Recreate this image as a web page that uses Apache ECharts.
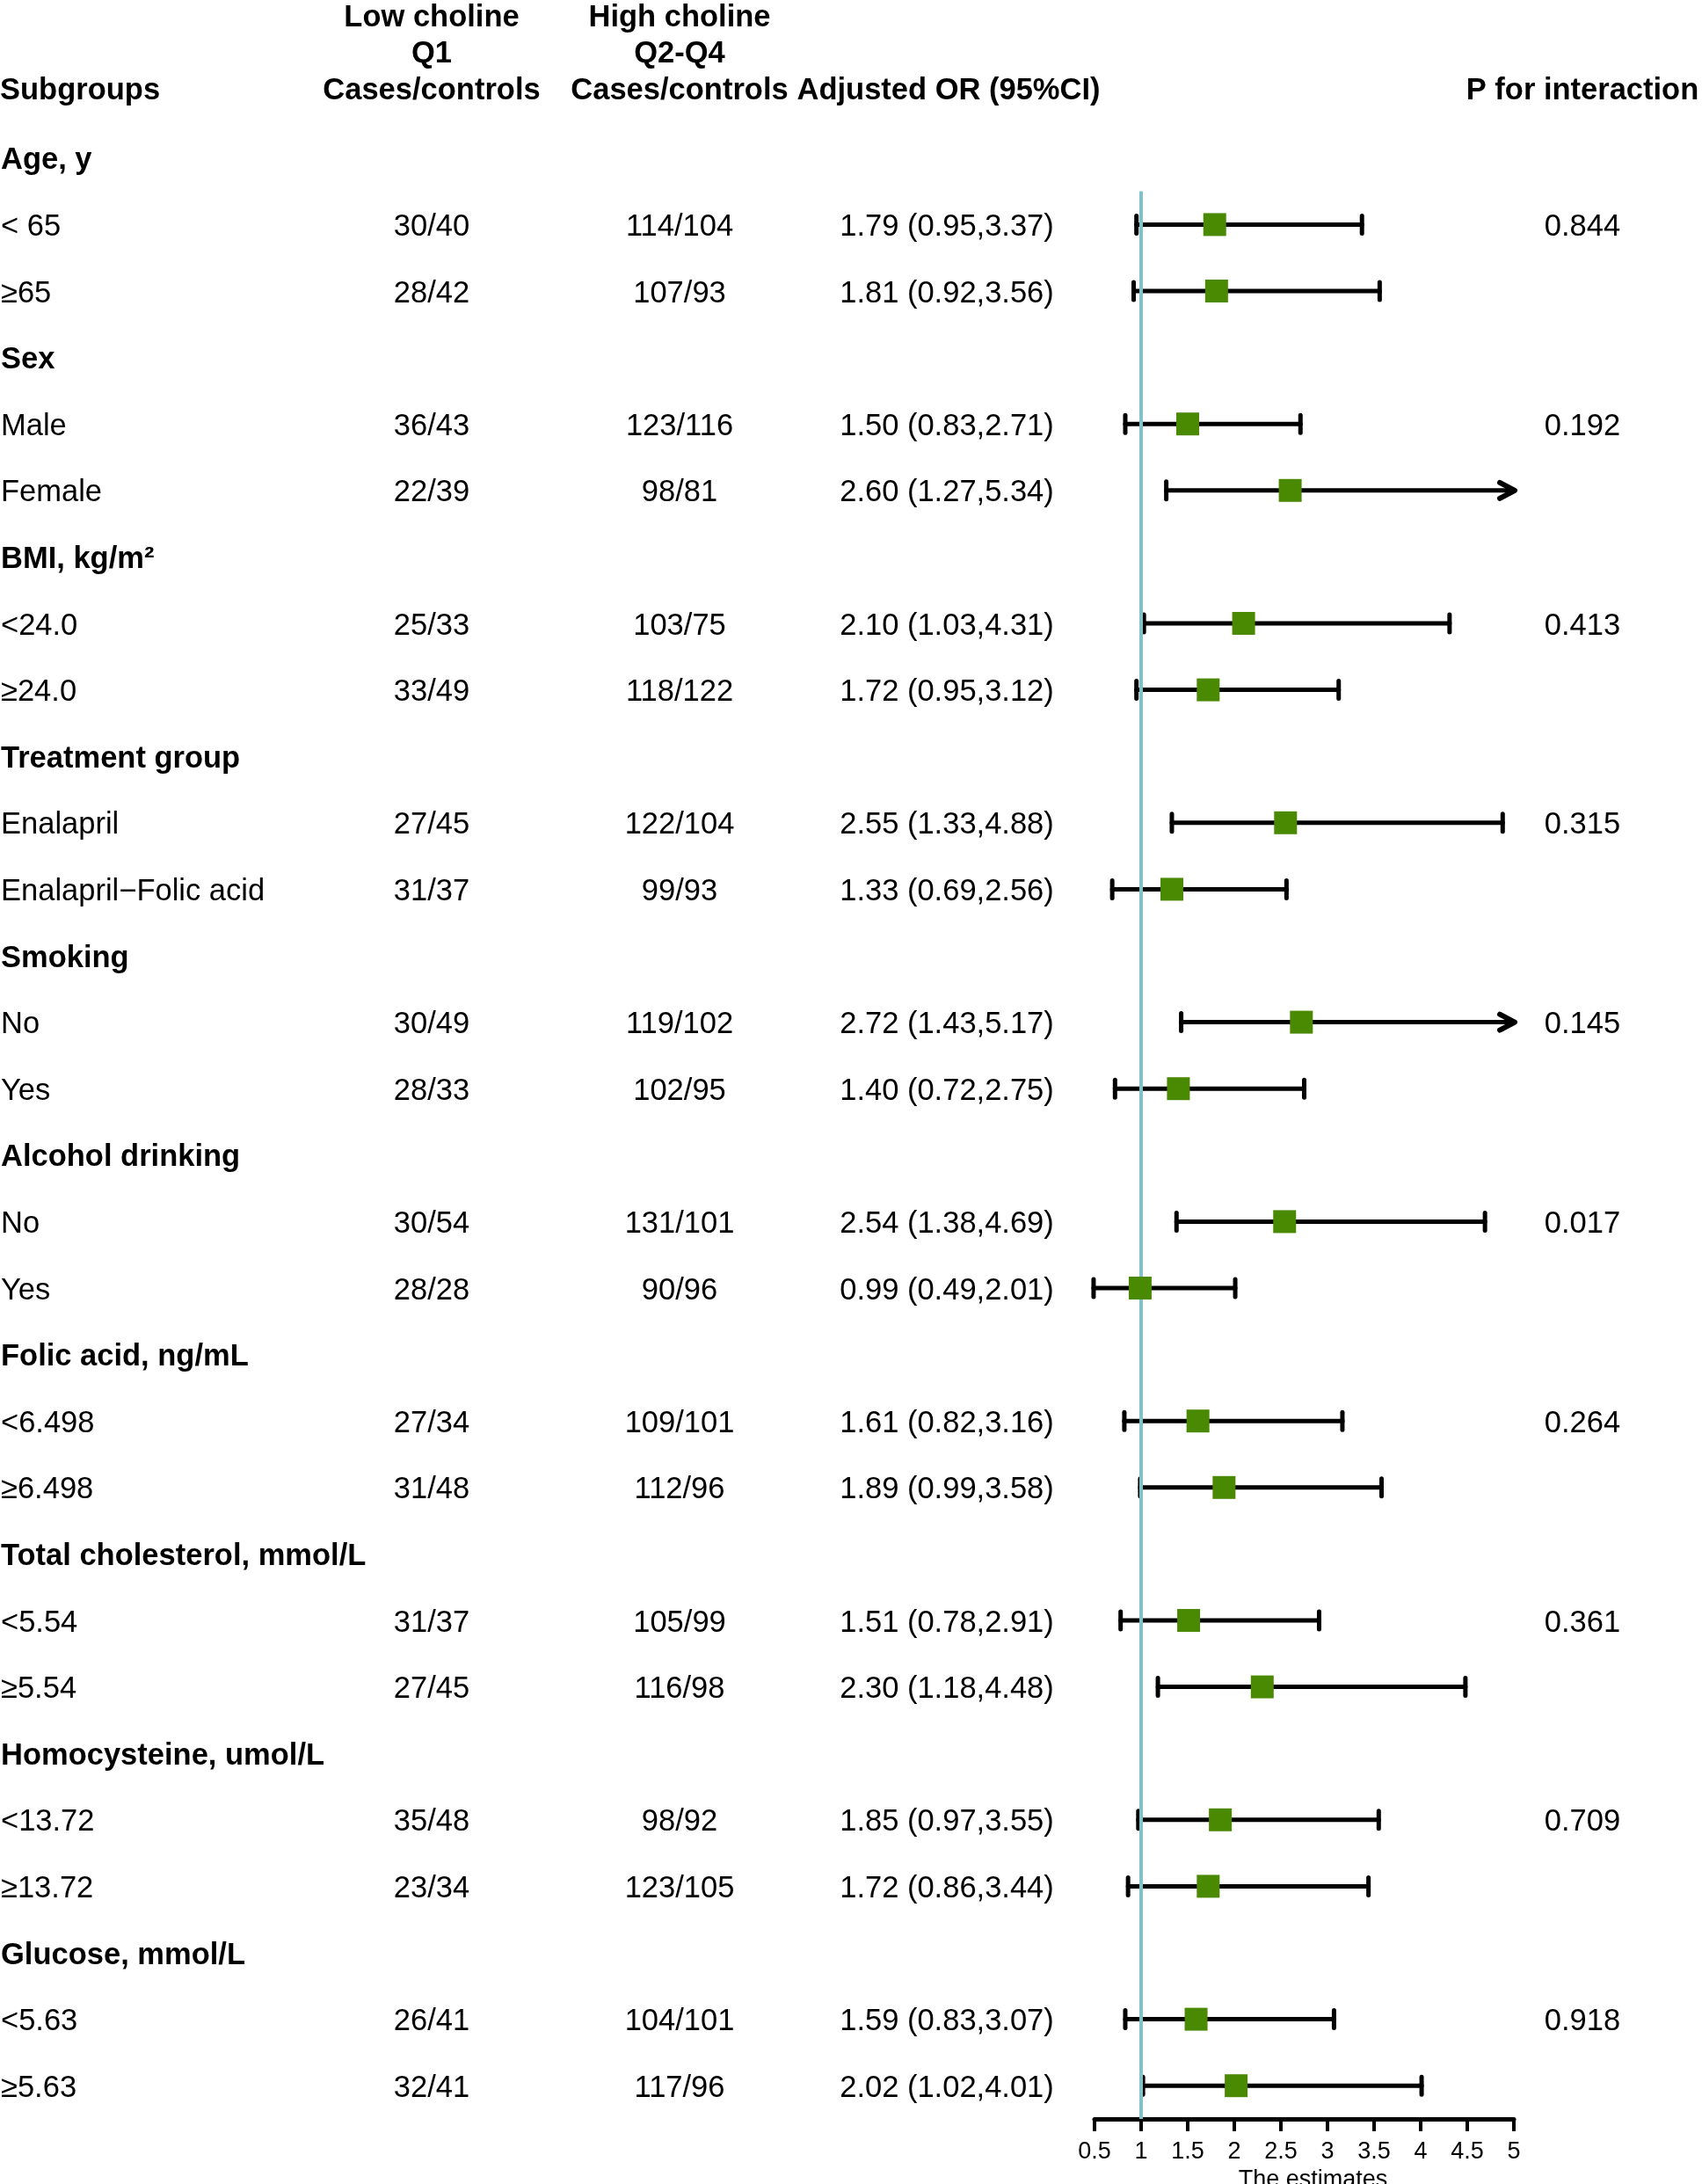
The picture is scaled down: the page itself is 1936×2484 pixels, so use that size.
<!DOCTYPE html>
<html><head><meta charset="utf-8">
<script src="https://cdn.jsdelivr.net/npm/echarts@6/dist/echarts.min.js"></script>
<style>html,body{margin:0;padding:0;background:#fff}#c{width:1936px;height:2484px}</style>
</head><body><div id="c"></div>
<script>
// ---------- data ----------
const rowLabels = ['Age, y','< 65','\u226565','Sex','Male','Female','BMI, kg/m\u00b2','<24.0','\u226524.0',
  'Treatment group','Enalapril','Enalapril\u2212Folic acid','Smoking','No','Yes','Alcohol drinking','No','Yes',
  'Folic acid, ng/mL','<6.498','\u22656.498','Total cholesterol, mmol/L','<5.54','\u22655.54',
  'Homocysteine, umol/L','<13.72','\u226513.72','Glucose, mmol/L','<5.63','\u22655.63'];
const lowCases = [null,'30/40','28/42',null,'36/43','22/39',null,'25/33','33/49',null,'27/45','31/37',null,'30/49','28/33',
  null,'30/54','28/28',null,'27/34','31/48',null,'31/37','27/45',null,'35/48','23/34',null,'26/41','32/41'];
const highCases = [null,'114/104','107/93',null,'123/116','98/81',null,'103/75','118/122',null,'122/104','99/93',null,'119/102','102/95',
  null,'131/101','90/96',null,'109/101','112/96',null,'105/99','116/98',null,'98/92','123/105',null,'104/101','117/96'];
const orEst = [null,1.79,1.81,null,1.50,2.60,null,2.10,1.72,null,2.55,1.33,null,2.72,1.40,null,2.54,0.99,null,1.61,1.89,null,1.51,2.30,null,1.85,1.72,null,1.59,2.02];
const ciLower = [null,0.95,0.92,null,0.83,1.27,null,1.03,0.95,null,1.33,0.69,null,1.43,0.72,null,1.38,0.49,null,0.82,0.99,null,0.78,1.18,null,0.97,0.86,null,0.83,1.02];
const ciUpper = [null,3.37,3.56,null,2.71,5.34,null,4.31,3.12,null,4.88,2.56,null,5.17,2.75,null,4.69,2.01,null,3.16,3.58,null,2.91,4.48,null,3.55,3.44,null,3.07,4.01];
const pInteraction = [null,'0.844',null,null,'0.192',null,null,'0.413',null,null,'0.315',null,null,'0.145',null,
  null,'0.017',null,null,'0.264',null,null,'0.361',null,null,'0.709',null,null,'0.918',null];
const headerCol1 = ['Subgroups'];
const headerCol2 = ['Low choline','Q1','Cases/controls'];
const headerCol3 = ['High choline','Q2-Q4','Cases/controls'];
const headerCol4 = ['Adjusted OR (95%CI)'];
const headerCol5 = ['P for interaction'];
const refOR = 1;
const xMin = 0.5, xMax = 5, xStep = 0.5;
const axisTitle = 'The estimates';

// ---------- layout / style ----------
const FONT = '"Liberation Sans", Arial, Helvetica, sans-serif';
const FS = 34.5;
const TEXT_DY = 3;
const COL = {label: 1, low: 491, high: 773, or: 1077, p: 1800};
const nRows = rowLabels.length;

const chart = echarts.init(document.getElementById('c'), null, {renderer: 'canvas'});

function txt(text, x, y, align, bold) {
  return {type: 'text', x: x, y: y, silent: true,
    style: {text: text, font: (bold ? 'bold ' : '') + FS + 'px ' + FONT, fill: '#000',
      align: align, verticalAlign: 'middle', textAlign: align, textVerticalAlign: 'middle'}};
}

function renderTable(params, api) {
  const i = api.value(1);
  const y = api.coord([xMin, i])[1] + TEXT_DY;
  const isGroup = lowCases[i] == null;
  const ch = [txt(rowLabels[i], COL.label, y, 'left', isGroup)];
  if (!isGroup) {
    ch.push(txt(lowCases[i], COL.low, y, 'center', false));
    ch.push(txt(highCases[i], COL.high, y, 'center', false));
    ch.push(txt(orEst[i].toFixed(2) + ' (' + ciLower[i].toFixed(2) + ',' + ciUpper[i].toFixed(2) + ')', COL.or, y, 'center', false));
  }
  if (pInteraction[i] != null) ch.push(txt(pInteraction[i], COL.p, y, 'center', false));
  return {type: 'group', children: ch};
}

function renderErr(params, api) {
  const lo = api.value(0), hi = api.value(1), row = api.value(2);
  const p0 = api.coord([lo, row]);
  const arrow = hi > xMax;
  const p1 = api.coord([Math.min(hi, xMax), row]);
  const y = p0[1];
  const st = {stroke: '#000', lineWidth: 5, lineCap: 'round', lineJoin: 'round', fill: null};
  const ch = [
    {type: 'line', shape: {x1: p0[0], y1: y, x2: p1[0], y2: y}, style: st},
    {type: 'line', shape: {x1: p0[0], y1: y - 10, x2: p0[0], y2: y + 10}, style: st}
  ];
  if (arrow) {
    ch.push({type: 'polyline', shape: {points: [[p1[0] - 16, y - 9], [p1[0] + 1, y], [p1[0] - 16, y + 9]]},
      style: {stroke: '#000', lineWidth: 6, lineCap: 'round', lineJoin: 'round', fill: null}});
  } else {
    ch.push({type: 'line', shape: {x1: p1[0], y1: y - 10, x2: p1[0], y2: y + 10}, style: st});
  }
  return {type: 'group', children: ch};
}

const errData = [], ptData = [], tableData = [];
for (let i = 0; i < nRows; i++) {
  tableData.push([xMin, i]);
  if (orEst[i] != null) {
    errData.push([ciLower[i], ciUpper[i], i]);
    ptData.push([orEst[i], i]);
  }
}

function headerLines(lines, x, align, yLast) {
  const out = [];
  const n = lines.length;
  lines.forEach((t, k) => {
    out.push({type: 'text', x: x, y: yLast - (n - 1 - k) * 41.5, silent: true,
      style: {text: t, font: 'bold ' + FS + 'px ' + FONT, fill: '#000', align: align, verticalAlign: 'middle',
        textAlign: align, textVerticalAlign: 'middle'}});
  });
  return out;
}

const HEAD_Y = 103;
const graphics = [].concat(
  headerLines(headerCol1, COL.label - 1, 'left', HEAD_Y),
  headerLines(headerCol2, COL.low, 'center', HEAD_Y),
  headerLines(headerCol3, COL.high, 'center', HEAD_Y),
  headerLines(headerCol4, COL.or + 2, 'center', HEAD_Y),
  headerLines(headerCol5, COL.p, 'center', HEAD_Y)
);

chart.setOption({
  animation: false,
  backgroundColor: '#fff',
  grid: {left: 1245, right: 214, top: 142, bottom: 74, containLabel: false, outerBoundsMode: 'none'},
  xAxis: {
    type: 'value', min: xMin, max: xMax, interval: xStep, position: 'bottom',
    name: axisTitle, nameLocation: 'middle', nameGap: 50,
    nameTextStyle: {fontFamily: FONT, fontSize: 27, color: '#000', padding: [0, 0, 0, 20]},
    axisLine: {show: true, onZero: false, lineStyle: {color: '#000', width: 5, cap: 'round'}},
    axisTick: {show: true, length: 14, lineStyle: {color: '#000', width: 4}},
    axisLabel: {color: '#000', fontFamily: FONT, fontSize: 27, margin: 24},
    splitLine: {show: false}
  },
  yAxis: {
    type: 'value', inverse: true, min: -0.5, max: nRows - 0.5,
    show: false, splitLine: {show: false}
  },
  graphic: graphics,
  series: [
    {type: 'custom', name: 'table', data: tableData, renderItem: renderTable, z: 1, silent: true, clip: false},
    {type: 'custom', name: 'ci', data: errData, renderItem: renderErr, z: 2, silent: true, clip: false,
      encode: {x: [0, 1], y: 2}},
    {type: 'line', name: 'ref', data: [[refOR, 0.5], [refOR, nRows - 0.5]], symbol: 'none', z: 3, silent: true,
      lineStyle: {color: '#80c1ca', width: 4}},
    {type: 'scatter', name: 'or', data: ptData, symbol: 'rect', symbolSize: [26, 26], z: 4, silent: true,
      itemStyle: {color: '#4a8a02', opacity: 1}}
  ]
});
</script>
</body></html>
